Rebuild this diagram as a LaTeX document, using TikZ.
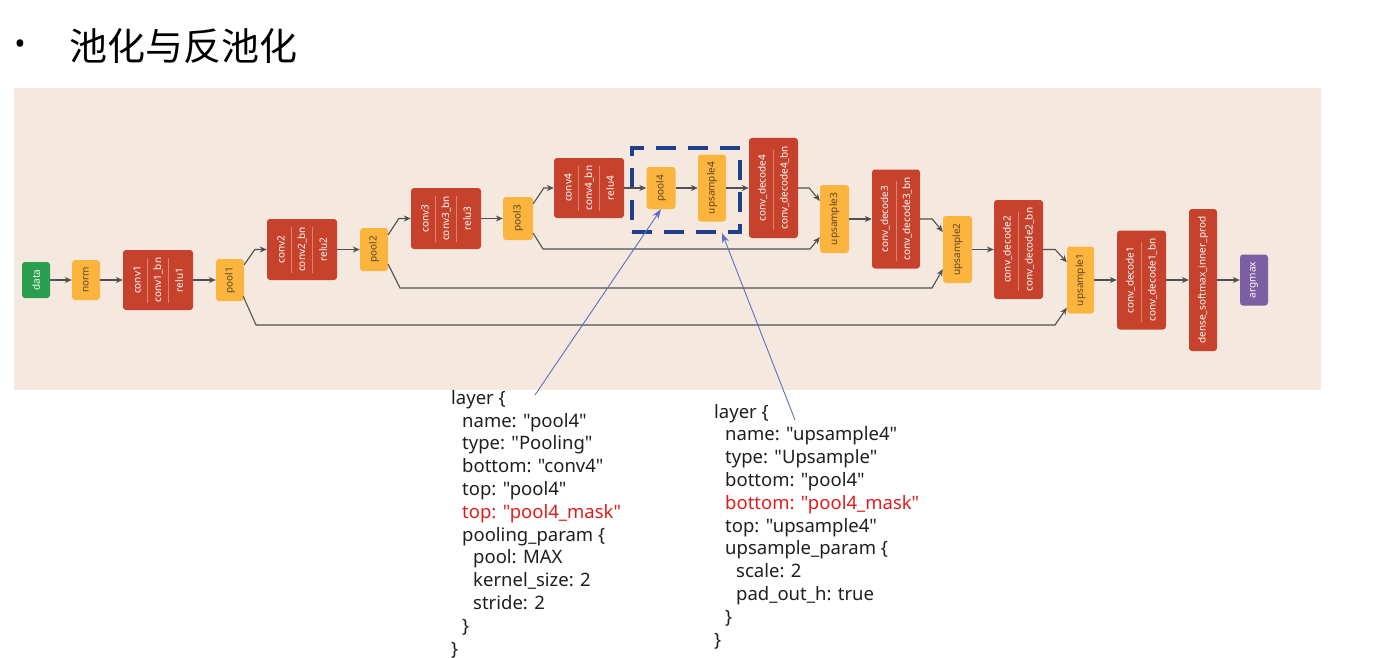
\documentclass[tikz,border=0pt]{standalone}
\usepackage{fontspec}
\usepackage{graphicx}
\setmainfont{Noto Sans}[Ligatures=TeXOff]
\newfontfamily\cjk{Noto Sans CJK SC}
\usetikzlibrary{calc,arrows.meta}
\definecolor{bgc}{RGB}{245,232,222}
\definecolor{redc}{RGB}{199,66,44}
\definecolor{sepc}{RGB}{222,130,110}
\definecolor{orc}{RGB}{251,180,62}
\definecolor{grc}{RGB}{40,158,78}
\definecolor{puc}{RGB}{124,94,162}
\definecolor{lnc}{RGB}{80,80,80}
\definecolor{dbl}{RGB}{32,62,140}
\definecolor{abl}{RGB}{95,110,195}
\definecolor{otx}{RGB}{95,70,35}
\definecolor{redtx}{RGB}{225,30,30}
\tikzset{
  lay/.style={rectangle, rounded corners=3pt, inner sep=0pt, font=\fontsize{10}{12}\selectfont},
  redl/.style={lay, fill=redc, text=white},
  orl/.style={lay, fill=orc, text=otx},
  grl/.style={lay, fill=grc, text=white},
  pul/.style={lay, fill=puc, text=white},
  lbl/.style={inner sep=0pt, text=white, font=\fontsize{10}{12}\selectfont},
  sepl/.style={draw=sepc, line width=0.6pt},
  arr/.style={draw=lnc, line width=1.1pt, -{Stealth[length=7pt,width=6pt]}},
  skip/.style={draw=lnc, line width=1.1pt},
  code/.style={align=left, inner sep=0pt, font=\fontsize{18.5}{22.8}\selectfont, text=black!88},
  ann/.style={draw=abl, line width=0.9pt, -{Stealth[length=10pt,width=7pt]}},
  hilite/.style={draw=dbl, line width=4pt, dash pattern=on 20pt off 12pt, inner sep=0pt}
}
\newcommand{\rl}[1]{\rotatebox{90}{#1}}
\begin{document}
\begin{tikzpicture}[x=1pt,y=-1pt]
\useasboundingbox (0,0) rectangle (1397,658);
\fill[white] (0,0) rectangle (1397,658);
\fill[bgc] (14,88) rectangle (1321,390);

% title
\node[anchor=center, inner sep=0pt] (bul) at (20,47) {\fontsize{30}{30}\selectfont •};
\node[anchor=west, inner sep=0pt] (title) at (69,46) {\cjk\fontsize{38}{40}\selectfont 池化与反池化};

% layers
\node[grl, minimum width=28pt, minimum height=36pt] (data) at (36,280) {\rl{data}};
\node[orl, minimum width=28pt, minimum height=40pt] (norm) at (86,280) {\rl{norm}};
\node[redl, minimum width=70pt, minimum height=60pt] (conv1) at (158,280) {};
\node[orl, minimum width=28pt, minimum height=42pt] (pool1) at (230,280) {\rl{pool1}};
\node[redl, minimum width=70pt, minimum height=61pt] (conv2) at (302,249.5) {};
\node[orl, minimum width=28pt, minimum height=43pt] (pool2) at (374,249.5) {\rl{pool2}};
\node[redl, minimum width=70pt, minimum height=61pt] (conv3) at (446,218.5) {};
\node[orl, minimum width=30pt, minimum height=43pt] (pool3) at (518,218.5) {\rl{pool3}};
\node[redl, minimum width=70pt, minimum height=60pt] (conv4) at (589,188) {};
\node[orl, minimum width=29pt, minimum height=42pt] (pool4) at (661,188) {\rl{pool4}};
\node[orl, minimum width=28pt, minimum height=67pt] (up4) at (712,188) {\rl{upsample4}};
\node[redl, minimum width=49pt, minimum height=100pt] (cd4) at (773.5,188) {};
\node[orl, minimum width=29pt, minimum height=68pt] (up3) at (834.5,219) {\rl{upsample3}};
\node[redl, minimum width=48pt, minimum height=99pt] (cd3) at (896,219) {};
\node[orl, minimum width=29pt, minimum height=67pt] (up2) at (957.5,249.5) {\rl{upsample2}};
\node[redl, minimum width=49pt, minimum height=99pt] (cd2) at (1018.5,249.5) {};
\node[orl, minimum width=27pt, minimum height=67pt] (up1) at (1080.5,280) {\rl{upsample1}};
\node[redl, minimum width=49pt, minimum height=99pt] (cd1) at (1141.5,280) {};
\node[redl, minimum width=28pt, minimum height=142pt] (dense) at (1203,280) {\rl{dense\_softmax\_inner\_prod}};
\node[pul, minimum width=28pt, minimum height=51pt] (argmax) at (1254,280) {\rl{argmax}};

% labels inside 3-part conv blocks
\foreach \n/\a/\b/\c in {conv1/conv1/conv1\_bn/relu1, conv2/conv2/conv2\_bn/relu2, conv3/conv3/conv3\_bn/relu3, conv4/conv4/conv4\_bn/relu4}{
  \node[lbl] (\n-a) at ($(\n)+(-21,0)$) {\rl{\a}};
  \node[lbl] (\n-b) at ($(\n)+(0,0)$) {\rl{\b}};
  \node[lbl] (\n-c) at ($(\n)+(21,0)$) {\rl{\c}};
  \draw[sepl] ($(\n.north)+(-10.5,8)$) -- ($(\n.south)+(-10.5,-7)$);
  \draw[sepl] ($(\n.north)+(10.5,8)$) -- ($(\n.south)+(10.5,-7)$);
}
% labels inside 2-part decode blocks
\foreach \n/\a/\b in {cd4/conv\_decode4/conv\_decode4\_bn, cd3/conv\_decode3/conv\_decode3\_bn, cd2/conv\_decode2/conv\_decode2\_bn, cd1/conv\_decode1/conv\_decode1\_bn}{
  \node[lbl] (\n-a) at ($(\n)+(-11,0)$) {\rl{\a}};
  \node[lbl] (\n-b) at ($(\n)+(11,0)$) {\rl{\b}};
  \draw[sepl] ($(\n.north)+(0,12)$) -- ($(\n.south)+(0,-8)$);
}

% highlight box
\node[hilite, minimum width=108pt, minimum height=84pt] (hl) at (686,190) {};

% straight connectors
\draw[arr] (data) -- (norm);
\draw[arr] (norm) -- (conv1);
\draw[arr] (conv1) -- (pool1);
\draw[arr] (conv2) -- (pool2);
\draw[arr] (conv3) -- (pool3);
\draw[arr] (conv4) -- (pool4);
\draw[arr] (pool4) -- (up4);
\draw[arr] (up4) -- (cd4);
\draw[arr] (up3) -- (cd3);
\draw[arr] (up2) -- (cd2);
\draw[arr] (up1) -- (cd1);
\draw[arr] (cd1) -- (dense);
\draw[arr] (dense) -- (argmax);

% bent connectors (encoder)
\draw[arr] ($(pool1.north east)+(0,6)$) -- ($(conv2.west)+(-12,0)$) -- (conv2.west);
\draw[arr] ($(pool2.north east)+(0,7)$) -- ($(conv3.west)+(-12,0)$) -- (conv3.west);
\draw[arr] ($(pool3.north east)+(0,7)$) -- ($(conv4.west)+(-10,0)$) -- (conv4.west);
% bent connectors (decoder)
\draw[arr] (cd4.east) -- ($(cd4.east)+(11,0)$) -- ($(up3.north west)+(0,16)$);
\draw[arr] (cd3.east) -- ($(cd3.east)+(12,0)$) -- ($(up2.north west)+(0,16)$);
\draw[arr] (cd2.east) -- ($(cd2.east)+(12,0)$) -- ($(up1.north west)+(0,16)$);

% skip connections
\draw[arr] ($(pool3.south east)+(0,-7)$) -- (543,249) -- (810,249) -- ($(up3.south west)+(0,-16)$);
\draw[arr] ($(pool2.south east)+(0,-7)$) -- (400,288) -- (932,288) -- ($(up2.south west)+(0,-14)$);
\draw[arr] ($(pool1.south east)+(-1,-5)$) -- (256,325) -- (1055,325) -- ($(up1.south west)+(0,-6)$);

% code blocks (base anchor = baseline of last line)
\node[code, anchor=base west] (codeL) at (451,655) {layer \{\\
\hspace*{11pt}name: "pool4"\\
\hspace*{11pt}type: "Pooling"\\
\hspace*{11pt}bottom: "conv4"\\
\hspace*{11pt}top: "pool4"\\
\hspace*{11pt}\textcolor{redtx}{top: "pool4\_mask"}\\
\hspace*{11pt}pooling\_param \{\\
\hspace*{22pt}pool: MAX\\
\hspace*{22pt}kernel\_size: 2\\
\hspace*{22pt}stride: 2\\
\hspace*{11pt}\}\\
\}};
\node[code, anchor=base west] (codeR) at (714,646) {layer \{\\
\hspace*{11pt}name: "upsample4"\\
\hspace*{11pt}type: "Upsample"\\
\hspace*{11pt}bottom: "pool4"\\
\hspace*{11pt}\textcolor{redtx}{bottom: "pool4\_mask"}\\
\hspace*{11pt}top: "upsample4"\\
\hspace*{11pt}upsample\_param \{\\
\hspace*{22pt}scale: 2\\
\hspace*{22pt}pad\_out\_h: true\\
\hspace*{11pt}\}\\
\}};

% annotation arrows
\coordinate (pL) at (535,395);
\coordinate (pR) at (795,420);
\coordinate (pRt) at (722,233);
\draw[ann] (pL) -- (pool4.south);
\draw[ann] (pR) -- (pRt);
\end{tikzpicture}
\end{document}
